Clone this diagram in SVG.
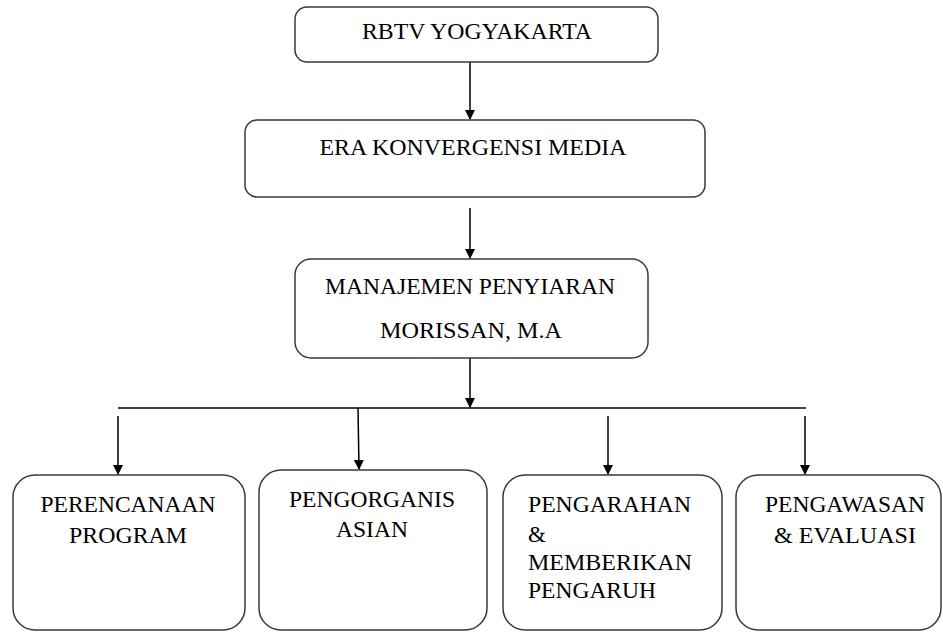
<svg xmlns="http://www.w3.org/2000/svg" width="943" height="632" viewBox="0 0 943 632">
<defs>
<style>
.box{fill:#fff;stroke:#3a3a3a;stroke-width:1.5}
.c{text-anchor:middle}
.ln{stroke:#000;stroke-width:1.5;fill:none}
</style>
<marker id="ah" markerWidth="10" markerHeight="10" refX="9" refY="5" orient="auto" markerUnits="userSpaceOnUse">
<path d="M0,0 L10,5 L0,10 z" fill="#000"/>
</marker>
</defs>
<rect width="943" height="632" fill="#fff"/>
<g id="connectors">
<line class="ln" x1="470" y1="62" x2="470" y2="119" marker-end="url(#ah)"/>
<line class="ln" x1="470" y1="208" x2="470" y2="258" marker-end="url(#ah)"/>
<line class="ln" x1="470" y1="358" x2="470" y2="407" marker-end="url(#ah)"/>
<line class="ln" x1="118" y1="408" x2="806" y2="408"/>
<line class="ln" x1="118" y1="416" x2="118" y2="474" marker-end="url(#ah)"/>
<line class="ln" x1="358" y1="408" x2="359" y2="469" marker-end="url(#ah)"/>
<line class="ln" x1="608" y1="416" x2="608" y2="474" marker-end="url(#ah)"/>
<line class="ln" x1="805" y1="416" x2="805" y2="474" marker-end="url(#ah)"/>
</g>
<g font-family="Liberation Serif, Times New Roman, serif" font-size="23" fill="#000">
<g id="rbtv">
<rect class="box" x="295" y="7" width="363" height="55" rx="12"/>
<text class="c" x="477" y="39" textLength="230" lengthAdjust="spacingAndGlyphs">RBTV YOGYAKARTA</text>
</g>
<g id="era">
<rect class="box" x="245" y="120" width="460" height="77" rx="12"/>
<text class="c" x="473" y="155" textLength="307" lengthAdjust="spacingAndGlyphs">ERA KONVERGENSI MEDIA</text>
</g>
<g id="manajemen">
<rect class="box" x="295" y="259" width="353" height="99" rx="16"/>
<text class="c" x="470" y="294" textLength="290" lengthAdjust="spacingAndGlyphs">MANAJEMEN PENYIARAN</text>
<text class="c" x="471" y="338" textLength="182" lengthAdjust="spacingAndGlyphs">MORISSAN, M.A</text>
</g>
<g id="perencanaan">
<rect class="box" x="13" y="475" width="232" height="155" rx="22"/>
<text class="c" x="128" y="512" textLength="175" lengthAdjust="spacingAndGlyphs">PERENCANAAN</text>
<text class="c" x="128" y="543" textLength="118" lengthAdjust="spacingAndGlyphs">PROGRAM</text>
</g>
<g id="pengorganisasian">
<rect class="box" x="259" y="470" width="228" height="160" rx="22"/>
<text class="c" x="372" y="507" textLength="166" lengthAdjust="spacingAndGlyphs">PENGORGANIS</text>
<text class="c" x="372" y="537" textLength="72" lengthAdjust="spacingAndGlyphs">ASIAN</text>
</g>
<g id="pengarahan">
<rect class="box" x="503" y="475" width="219" height="155" rx="22"/>
<text x="528" y="512" textLength="163" lengthAdjust="spacingAndGlyphs">PENGARAHAN</text>
<text x="528" y="542">&amp;</text>
<text x="528" y="570" textLength="164" lengthAdjust="spacingAndGlyphs">MEMBERIKAN</text>
<text x="528" y="598" textLength="128" lengthAdjust="spacingAndGlyphs">PENGARUH</text>
</g>
<g id="pengawasan">
<rect class="box" x="736" y="475" width="205" height="155" rx="22"/>
<text class="c" x="845" y="512" textLength="160" lengthAdjust="spacingAndGlyphs">PENGAWASAN</text>
<text class="c" x="845" y="543" textLength="142" lengthAdjust="spacingAndGlyphs">&amp; EVALUASI</text>
</g>
</g>
</svg>
